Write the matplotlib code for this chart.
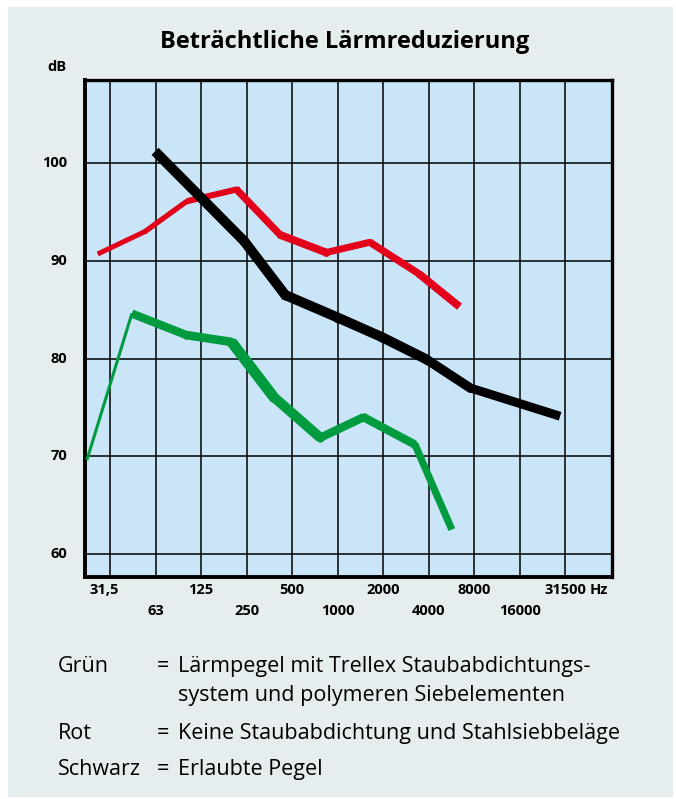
import numpy as np
import matplotlib
matplotlib.use("Agg")
import matplotlib.pyplot as plt
from matplotlib.patches import Rectangle
from matplotlib.transforms import blended_transform_factory

# frequency bands (x = band index)
freq_labels = ["31,5", "63", "125", "250", "500", "1000", "2000", "4000", "8000", "16000", "31500"]
db_ticks = [60, 70, 80, 90, 100]

# curves (x in band index, y in dB)
gruen_x = [-0.51, 0.48, 1.68, 2.67, 3.59, 4.62, 5.57, 6.70, 7.51]
gruen_y = [69.6, 84.6, 82.4, 81.7, 76.1, 71.9, 74.0, 71.2, 62.5]
rot_x = [-0.27, 0.77, 1.69, 2.78, 3.74, 4.75, 5.71, 6.78, 7.68]
rot_y = [90.7, 93.0, 96.1, 97.3, 92.65, 90.85, 91.9, 88.7, 85.3]
schwarz_x = [0.99, 2.95, 3.85, 5.0, 5.97, 6.96, 7.91, 9.89]
schwarz_y = [101.2, 92.0, 86.5, 84.2, 82.2, 79.9, 77.0, 74.1]

legend_keys = ["Grün", "", "Rot", "Schwarz"]
legend_eq = ["=", "", "=", "="]
legend_txt = ["Lärmpegel mit Trellex Staubabdichtungs-",
              "system und polymeren Siebelementen",
              "Keine Staubabdichtung und Stahlsiebbeläge",
              "Erlaubte Pegel"]

BG = "#e6edef"; PLOT = "#c9e5f7"
RED = "#e2001a"; GREEN = "#009b3e"; BLACK = "#000000"
FB = "Open Sans"
W, H = 676, 799

fig = plt.figure(figsize=(W/100, H/100), dpi=100)
fig.patch.set_facecolor("white")
bgax = fig.add_axes([0, 0, 1, 1], zorder=-5)
bgax.axis("off")
bgax.add_patch(Rectangle((8/W, 1-797/H), (673-8)/W, (797-7)/H, transform=bgax.transAxes,
                         fc=BG, ec="none"))

ax = fig.add_axes([85/W, 1-577/H, (612-85)/W, (577-80)/H])
ax.set_facecolor(PLOT)
ax.set_xlim(-0.55, 11.03)
ax.set_ylim(57.65, 108.5)
ax.set_xticks(range(len(freq_labels)))
ax.set_yticks(db_ticks)
ax.grid(True, color="black", lw=1.1)
ax.set_axisbelow(True)
ax.tick_params(length=0, labelleft=False, labelbottom=False)
for s in ax.spines.values():
    s.set_linewidth(2.4); s.set_color("black")
ax.spines["left"].set_linewidth(2.8)
ax.spines["bottom"].set_linewidth(2.8)

def curve(x, y, widths, col):
    # each segment with its own width (original strokes taper), round fill at the bends
    for i, w in enumerate(widths):
        ax.plot(x[i:i+2], y[i:i+2], color=col, lw=w, solid_capstyle="butt", zorder=3)
    for i in range(1, len(x) - 1):
        ax.plot(x[i], y[i], "o", color=col, mec="none",
                ms=min(widths[i-1], widths[i]), zorder=3)

curve(rot_x, rot_y, [3.6, 3.8, 4.4, 5.2, 5.6, 5.0, 5.2, 5.6], RED)
curve(schwarz_x, schwarz_y, [7.2, 7.2, 7.2, 7.2, 7.2, 6.8, 6.4], BLACK)
curve(gruen_x, gruen_y, [2.2, 6.0, 6.2, 7.8, 7.2, 6.0, 6.0, 5.2], GREEN)

tick_kw = dict(fontsize=10.5, fontweight="bold", family=FB)

# y labels
for v in db_ticks:
    ax.text(-0.945, v, str(v), ha="right", va="center", clip_on=False, **tick_kw)
fig.text(67/W, 1-67/H, "dB", ha="right", va="center", **tick_kw)

# x labels, staggered in two rows
bt = blended_transform_factory(ax.transData, fig.transFigure)
for i, lab in enumerate(freq_labels):
    yy = 1-590/H if i % 2 == 0 else 1-611/H
    xi = i - 0.12 if i == 0 else i
    ax.text(xi, yy, lab, ha="center", va="center", transform=bt, clip_on=False, **tick_kw)
ax.text(10.54, 1-590/H, "Hz", ha="left", va="center", transform=bt, clip_on=False, **tick_kw)

fig.text(345/W, 1-42/H, "Beträchtliche Lärmreduzierung", ha="center", va="center",
         fontsize=17, fontweight="bold", family=FB)

# legend (baselines)
rows = [672, 701, 739, 775]
for k, e, t, yy in zip(legend_keys, legend_eq, legend_txt, rows):
    fig.text(58/W, 1-yy/H, k, ha="left", va="baseline", fontsize=15.5, family=FB)
    fig.text(157/W, 1-yy/H, e, ha="left", va="baseline", fontsize=15.5, family=FB)
    fig.text(178/W, 1-yy/H, t, ha="left", va="baseline", fontsize=15.5, family=FB)

fig.savefig("out.png", dpi=100)
